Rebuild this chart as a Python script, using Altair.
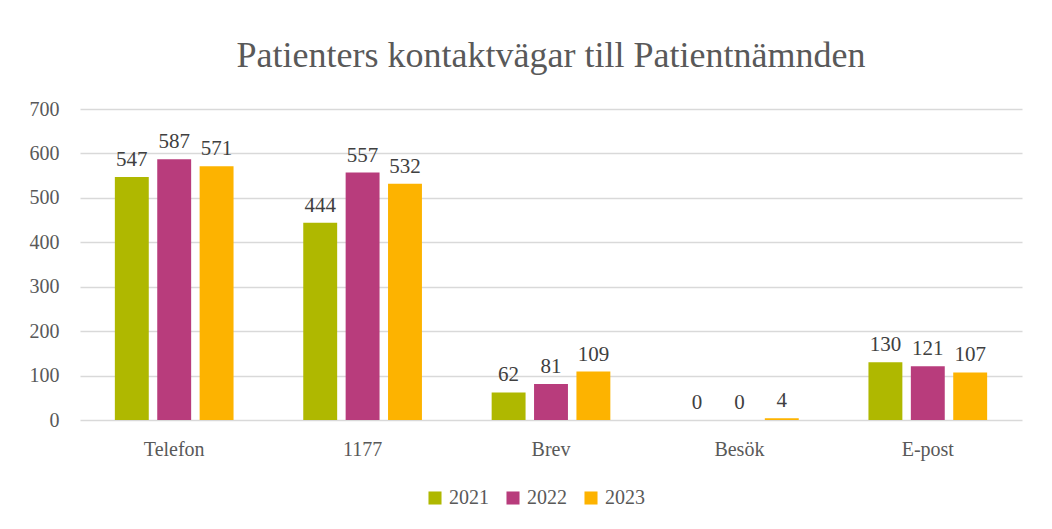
import altair as alt
import pandas as pd

categories = ["Telefon", "1177", "Brev", "Besök", "E-post"]
years = ["2021", "2022", "2023"]
values_2021 = [547, 444, 62, 0, 130]
values_2022 = [587, 557, 81, 0, 121]
values_2023 = [571, 532, 109, 4, 107]
colors = ["#AFB800", "#B83C7C", "#FDB300"]

rows = []
for yr, vals in zip(years, [values_2021, values_2022, values_2023]):
    for c, v in zip(categories, vals):
        rows.append({"Kategori": c, "År": yr, "Antal": v})
df = pd.DataFrame(rows)

FONT = "Liberation Serif"

x = alt.X("Kategori:N", sort=categories, title=None,
          scale=alt.Scale(paddingInner=0.37, paddingOuter=0.185),
          axis=alt.Axis(labelAngle=0, domain=False, ticks=False, grid=False, labelPadding=19,
                        labelFontSize=20, labelColor="#595959", labelFont=FONT))
xo = alt.XOffset("År:N", sort=years, scale=alt.Scale(paddingInner=0.2))

base = alt.Chart(df).encode(x=x, xOffset=xo)

bars = base.mark_bar().encode(
    y=alt.Y("Antal:Q", title=None,
            scale=alt.Scale(domain=[0, 700]),
            axis=alt.Axis(values=[0, 100, 200, 300, 400, 500, 600, 700], domain=False, ticks=False,
                          labelPadding=21, labelFontSize=20, labelColor="#595959", labelFont=FONT,
                          gridColor="#D9D9D9", gridWidth=1.5)),
    color=alt.Color("År:N", sort=years, scale=alt.Scale(domain=years, range=colors),
                    legend=alt.Legend(title=None, orient="none", legendX=345, legendY=379,
                                      direction="horizontal",
                                      symbolType="square", symbolSize=170, symbolStrokeWidth=0,
                                      labelFontSize=20, labelColor="#595959", labelFont=FONT,
                                      columnPadding=14, labelOffset=4)),
)

labels = base.mark_text(baseline="bottom", dy=-7, fontSize=21, font=FONT, color="#404040").encode(
    y="Antal:Q",
    text="Antal:Q",
)

chart = (bars + labels).properties(
    width=942, height=311,
    padding={"left": 21, "top": 30, "right": 5, "bottom": 5},
    title=alt.Title("Patienters kontaktvägar till Patientnämnden", fontSize=36, font=FONT,
                    fontWeight="normal", color="#595959", anchor="middle", offset=24),
).configure_view(stroke=None)

chart.save("out.html", embed_options={"renderer": "svg", "actions": False})
